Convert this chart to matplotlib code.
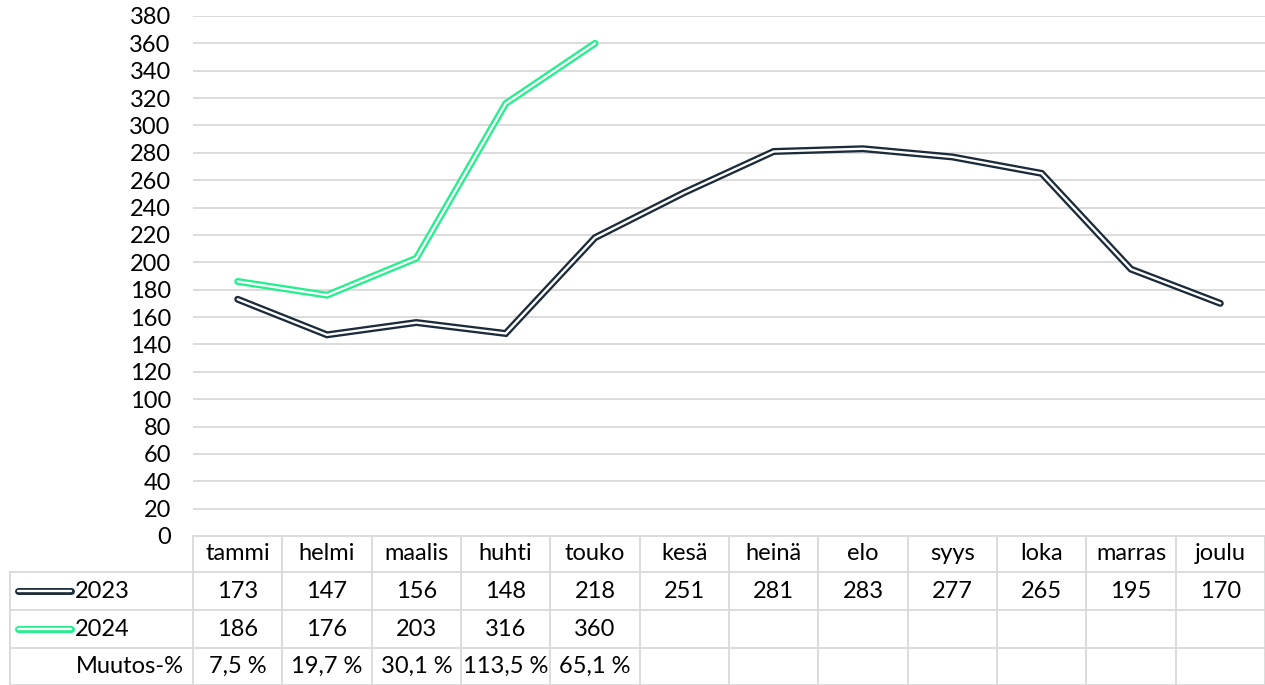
import matplotlib.pyplot as plt
import matplotlib.patheffects as pe
from matplotlib.lines import Line2D
from matplotlib.transforms import blended_transform_factory
import numpy as np

plt.rcParams['font.family'] = ['Lato', 'DejaVu Sans']

# Data
months = ['tammi', 'helmi', 'maalis', 'huhti', 'touko', 'kesä',
          'heinä', 'elo', 'syys', 'loka', 'marras', 'joulu']
values_2023 = [173, 147, 156, 148, 218, 251, 281, 283, 277, 265, 195, 170]
values_2024 = [186, 176, 203, 316, 360]
change_pct = ['7,5 %', '19,7 %', '30,1 %', '113,5 %', '65,1 %']
series_names = ['2023', '2024']

dark = '#1b2b3a'
green = '#22f08c'
grid_col = '#d9d9d9'
fs = 17

W, H = 1265, 685
fig = plt.figure(figsize=(W / 100, H / 100), dpi=100)
ax = fig.add_axes([193 / W, 1 - 536 / H, 1072 / W, 520 / H])

x = np.arange(len(months))


def double_line(xs, ys, col):
    ax.plot(xs, ys, color='white', lw=1.7, solid_capstyle='round',
            solid_joinstyle='miter', zorder=3,
            path_effects=[pe.Stroke(linewidth=5, foreground=col,
                                    capstyle='round'), pe.Normal()])


double_line(x, values_2023, dark)
double_line(x[:len(values_2024)], values_2024, green)

ax.set_xlim(-0.5, len(months) - 0.5)
ax.set_ylim(0, 380)
ax.set_yticks(range(0, 381, 20))
ax.yaxis.grid(True, color=grid_col, lw=1.3)
ax.set_axisbelow(True)
ax.set_xticks([])
ax.tick_params(axis='y', length=0, pad=16, labelsize=fs)
for s in ['top', 'right', 'left']:
    ax.spines[s].set_visible(False)
ax.spines['bottom'].set_color(grid_col)
ax.spines['bottom'].set_linewidth(1.3)

# Data table under the plot
tr = blended_transform_factory(ax.transData, fig.transFigure)
figy = lambda p: 1 - p / H
rows_y = [536, 572, 610, 648, 685]

# horizontal lines of table
for p in rows_y[1:]:
    fig.add_artist(Line2D([10 / W, 1.0], [figy(p), figy(p)], color=grid_col, lw=1.3))
# vertical lines at category boundaries
for b in np.arange(-0.5, len(months) + 0.5, 1):
    ax.plot([b, b], [figy(536), figy(685)], color=grid_col, lw=1.3,
            transform=tr, clip_on=False)
fig.add_artist(Line2D([10 / W, 10 / W], [figy(572), figy(685)], color=grid_col, lw=1.3))

centers = [(rows_y[i] + rows_y[i + 1]) / 2 for i in range(4)]
for i, m in enumerate(months):
    ax.text(i, figy(centers[0]), m, transform=tr, ha='center', va='center', fontsize=fs)
    ax.text(i, figy(centers[1]), str(values_2023[i]), transform=tr,
            ha='center', va='center', fontsize=fs)
for i, v in enumerate(values_2024):
    ax.text(i, figy(centers[2]), str(v), transform=tr, ha='center', va='center', fontsize=fs)
for i, c in enumerate(change_pct):
    ax.text(i, figy(centers[3]), c, transform=tr, ha='center', va='center', fontsize=fs)

# legend keys in the table
for k, (name, col) in enumerate(zip(series_names, [dark, green])):
    yk = figy(centers[1 + k])
    fig.add_artist(Line2D([18 / W, 71 / W], [yk, yk], color='white', lw=1.7,
                          solid_capstyle='round',
                          path_effects=[pe.Stroke(linewidth=5, foreground=col,
                                                  capstyle='round'), pe.Normal()]))
    fig.text(75 / W, yk, name, ha='left', va='center', fontsize=fs)
fig.text(184 / W, figy(centers[3]), 'Muutos-%', ha='right', va='center', fontsize=fs)

fig.savefig('out.png', dpi=100)
